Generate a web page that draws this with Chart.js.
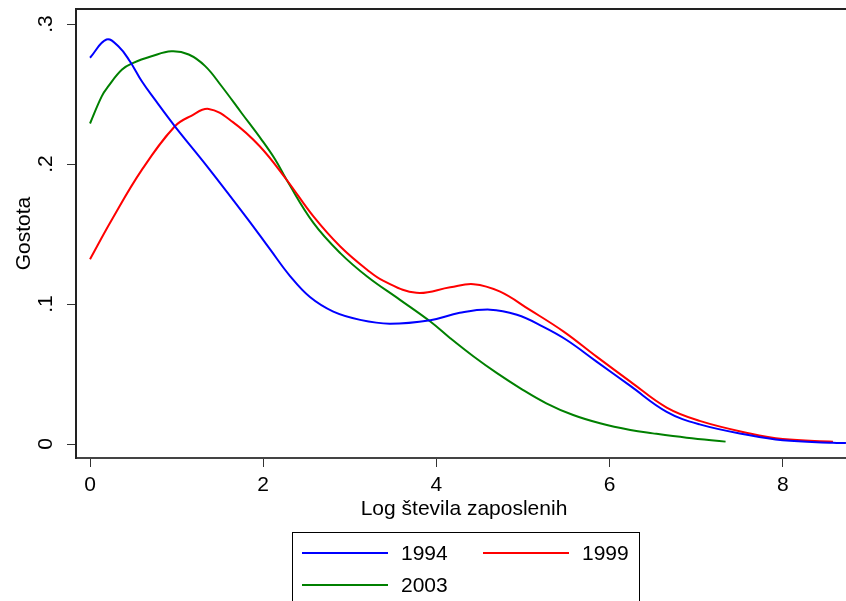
<!DOCTYPE html>
<html>
<head>
<meta charset="utf-8">
<script src="https://cdn.jsdelivr.net/npm/chart.js@4.4.0/dist/chart.umd.min.js"></script>
<style>
  html, body { margin: 0; padding: 0; overflow: hidden; background: #fff; }
  #wrap { position: relative; width: 846px; height: 601px; overflow: hidden; }
  #legend { position: absolute; left: 292px; top: 532px; width: 346px; height: 90px;
            border: 1px solid #000; font-family: "Liberation Sans", Arial, sans-serif; font-size: 21px; color: #000; }
  .swatch { position: absolute; width: 86px; height: 2px; }
  .lbl { position: absolute; line-height: 21px; }
</style>
</head>
<body>
<div id="wrap">
  <canvas id="kd" width="860" height="601"></canvas>
  <div id="legend"></div>
</div>
<script>
// density estimates
var x1994 = [0, 0.19, 0.33, 0.46, 0.60, 0.75, 0.98, 1.37, 1.83, 2.08, 2.31, 2.54, 2.81, 3.12, 3.46, 3.93, 4.27, 4.62, 4.93, 5.23, 5.50, 5.85, 6.24, 6.66, 7.04, 7.62, 8.0, 8.58, 8.73];
var y1994 = [0.276, 0.289, 0.284, 0.2735, 0.259, 0.246, 0.227, 0.197, 0.160, 0.139, 0.120, 0.105, 0.0946, 0.0887, 0.0860, 0.0885, 0.0937, 0.0960, 0.0923, 0.0839, 0.0745, 0.0589, 0.0415, 0.023, 0.014, 0.0062, 0.0027, 0.0009, 0.0007];

var x1999 = [0, 0.25, 0.60, 0.98, 1.17, 1.37, 1.65, 1.96, 2.27, 2.58, 2.89, 3.20, 3.39, 3.77, 4.16, 4.43, 4.73, 5.08, 5.47, 5.85, 6.24, 6.66, 7.04, 7.62, 8.0, 8.58];
var y1999 = [0.132, 0.160, 0.196, 0.227, 0.2345, 0.2394, 0.230, 0.2127, 0.1888, 0.1626, 0.1411, 0.1245, 0.1165, 0.108, 0.112, 0.1142, 0.109, 0.0958, 0.0803, 0.0624, 0.0446, 0.026, 0.0165, 0.0075, 0.0035, 0.0017];

var x2003 = [0, 0.135, 0.21, 0.37, 0.50, 0.71, 0.94, 1.14, 1.33, 1.52, 1.75, 1.98, 2.14, 2.27, 2.58, 2.89, 3.20, 3.58, 3.93, 4.16, 4.43, 4.70, 4.97, 5.27, 5.58, 5.89, 6.24, 6.50, 6.89, 7.34];
var y2003 = [0.229, 0.2484, 0.2555, 0.2675, 0.2723, 0.277, 0.2806, 0.2783, 0.270, 0.2556, 0.2365, 0.2175, 0.2031, 0.1888, 0.158, 0.1364, 0.1197, 0.103, 0.0875, 0.0756, 0.0625, 0.0506, 0.0398, 0.0291, 0.0207, 0.0148, 0.0100, 0.0076, 0.0045, 0.0017];

var seriesNames = ['1994', '1999', '2003'];
var seriesColors = ['#0000ff', '#ff0000', '#008000'];

var xTicks = [0, 2, 4, 6, 8];
var yTicks = [0, 0.1, 0.2, 0.3];
var yTickLabels = ['0', '.1', '.2', '.3'];

function pts(xs, ys) {
    return xs.map(function (x, i) { return { x: x, y: ys[i] }; });
}

var font = { family: '"Liberation Sans", Arial, sans-serif', size: 21 };

// top edge of the plot frame
var frameTop = {
    id: 'frameTop',
    afterDraw: function (chart) {
        var a = chart.chartArea, ctx = chart.ctx;
        ctx.save();
        ctx.strokeStyle = '#222';
        ctx.lineWidth = 2;
        ctx.beginPath();
        ctx.moveTo(a.left - 1, a.top);
        ctx.lineTo(a.right, a.top);
        ctx.stroke();
        ctx.restore();
    }
};

const ctx = document.getElementById('kd').getContext('2d');
const kdChart = new Chart(ctx, {
    type: 'scatter',
    data: {
        datasets: [
            { label: seriesNames[0], data: pts(x1994, y1994), borderColor: seriesColors[0] },
            { label: seriesNames[1], data: pts(x1999, y1999), borderColor: seriesColors[1] },
            { label: seriesNames[2], data: pts(x2003, y2003), borderColor: seriesColors[2] }
        ].map(function (d) {
            d.showLine = true;
            d.pointRadius = 0;
            d.borderWidth = 2;
            d.tension = 0.4;
            d.fill = false;
            return d;
        })
    },
    options: {
        responsive: false,
        animation: false,
        events: [],
        layout: { padding: { top: 9, right: 8, bottom: 81, left: 0 } },
        plugins: { legend: { display: false }, tooltip: { enabled: false } },
        scales: {
            x: {
                type: 'linear',
                min: -0.162,
                max: 8.80,
                afterBuildTicks: function (s) { s.ticks = xTicks.map(function (v) { return { value: v }; }); },
                afterFit: function (s) { s.height = 62; s.paddingLeft = 0; s.paddingRight = 0; },
                ticks: { font: font, color: '#000', padding: 6, maxRotation: 0 },
                grid: { drawOnChartArea: false, tickLength: 9, color: '#333' },
                border: { color: '#444', width: 2 },
                title: { display: true, text: 'Log števila zaposlenih', font: { family: font.family, size: 21, lineHeight: 1 }, color: '#000', padding: 0 }
            },
            y: {
                type: 'linear',
                min: -0.01,
                max: 0.3108,
                afterBuildTicks: function (s) { s.ticks = yTicks.map(function (v) { return { value: v }; }); },
                afterFit: function (s) { s.width = 76; s.paddingTop = 0; s.paddingBottom = 0; },
                ticks: {
                    font: font, color: '#000', padding: 12, minRotation: 90, maxRotation: 90, crossAlign: 'center',
                    callback: function (v) { return yTickLabels[yTicks.indexOf(Math.round(v * 10) / 10)]; }
                },
                grid: { drawOnChartArea: false, tickLength: 9, color: '#333' },
                border: { color: '#222', width: 2 },
                title: { display: true, text: 'Gostota', font: { family: font.family, size: 21, lineHeight: 1 }, color: '#000', padding: { top: 14, bottom: 0 } }
            }
        }
    },
    plugins: [frameTop]
});

// legend box below the plot, two columns
var lg = document.getElementById('legend');
seriesNames.forEach(function (name, i) {
    var col = i % 2, row = Math.floor(i / 2);
    var sw = document.createElement('div');
    sw.className = 'swatch';
    sw.style.background = seriesColors[i];
    sw.style.left = (9 + col * 181) + 'px';
    sw.style.top = (19 + row * 32) + 'px';
    lg.appendChild(sw);
    var t = document.createElement('div');
    t.className = 'lbl';
    t.textContent = name;
    t.style.left = (108 + col * 181) + 'px';
    t.style.top = (9 + row * 32) + 'px';
    lg.appendChild(t);
});
</script>
</body>
</html>
